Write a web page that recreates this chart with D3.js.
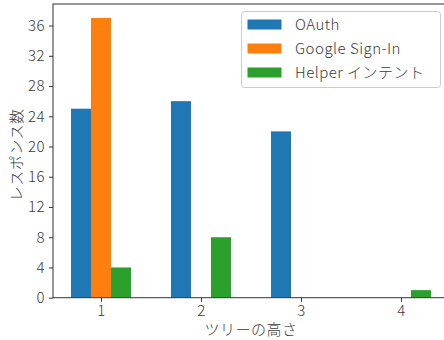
<!DOCTYPE html>
<html><head><meta charset="utf-8">
<script src="https://cdn.jsdelivr.net/npm/d3@7"></script>
<style>body{margin:0;background:#fff}svg{display:block}text{font-family:"Noto Sans CJK JP","Noto Sans",sans-serif;fill:#3a3a3a;font-weight:300;letter-spacing:0.5px}</style>
</head><body>
<script>
const categories = [1, 2, 3, 4];
const seriesNames = ["OAuth", "Google Sign-In", "Helper インテント"];
const oauth = [25, 26, 22, 0];
const google = [37, 0, 0, 0];
const helper = [4, 8, 0, 1];
const yTicks = [0, 4, 8, 12, 16, 20, 24, 28, 32, 36];
const colors = ["#1f77b4", "#ff7f0e", "#2ca02c"];
const series = [oauth, google, helper];

const W = 444, H = 340;
const m = {left: 53, top: 4, right: 449, bottom: 297.7};
const svg = d3.select("body").append("svg").attr("width", W).attr("height", H);

const x = d3.scaleLinear().domain([0.52, 4.48]).range([m.left, m.right]);
const y = d3.scaleLinear().domain([0, 38.85]).range([m.bottom, m.top]);
const bw = 0.2;

series.forEach((s, i) => {
  svg.append("g").selectAll("rect").data(s).join("rect")
    .attr("x", (d, j) => x(categories[j] + (i - 1) * bw - bw / 2))
    .attr("width", (d, j) => x(categories[j] + bw) - x(categories[j]))
    .attr("y", d => y(d))
    .attr("height", d => y(0) - y(d))
    .attr("fill", colors[i]);
});

const xAxis = svg.append("g").attr("transform", `translate(0,${m.bottom})`)
  .call(d3.axisBottom(x).tickValues(categories).tickFormat(d3.format("d")).tickSize(4).tickPadding(4));
const yAxis = svg.append("g").attr("transform", `translate(${m.left},0)`)
  .call(d3.axisLeft(y).tickValues(yTicks).tickSize(4).tickPadding(4));
[xAxis, yAxis].forEach(a => {
  a.selectAll("text").style("font-size", "15px").attr("fill", "#3a3a3a");
  a.selectAll("line").attr("stroke", "#333");
  a.select(".domain").remove();
});
// frame
svg.append("rect").attr("x", m.left).attr("y", m.top)
  .attr("width", m.right - m.left).attr("height", m.bottom - m.top)
  .attr("fill", "none").attr("stroke", "#333").attr("stroke-width", 1);

svg.append("text").attr("x", (m.left + m.right) / 2).attr("y", 335)
  .attr("text-anchor", "middle").style("font-size", "15px").text("ツリーの高さ");
svg.append("text").attr("transform", `translate(22,${(m.top + m.bottom) / 2 + 4}) rotate(-90)`)
  .attr("text-anchor", "middle").style("font-size", "15px").text("レスポンス数");

// legend
const lg = svg.append("g");
lg.append("rect").attr("x", 241.5).attr("y", 11.5).attr("width", 199).attr("height", 76)
  .attr("rx", 3).attr("fill", "#fff").attr("fill-opacity", 0.8).attr("stroke", "#ccc");
seriesNames.forEach((n, i) => {
  const cy = 24.5 + i * 24;
  lg.append("rect").attr("x", 247.5).attr("y", cy - 5).attr("width", 34).attr("height", 10).attr("fill", colors[i]);
  lg.append("text").attr("x", 295).attr("y", cy).attr("dy", "0.36em").style("font-size", "15px").text(n);
});
</script>
</body></html>
